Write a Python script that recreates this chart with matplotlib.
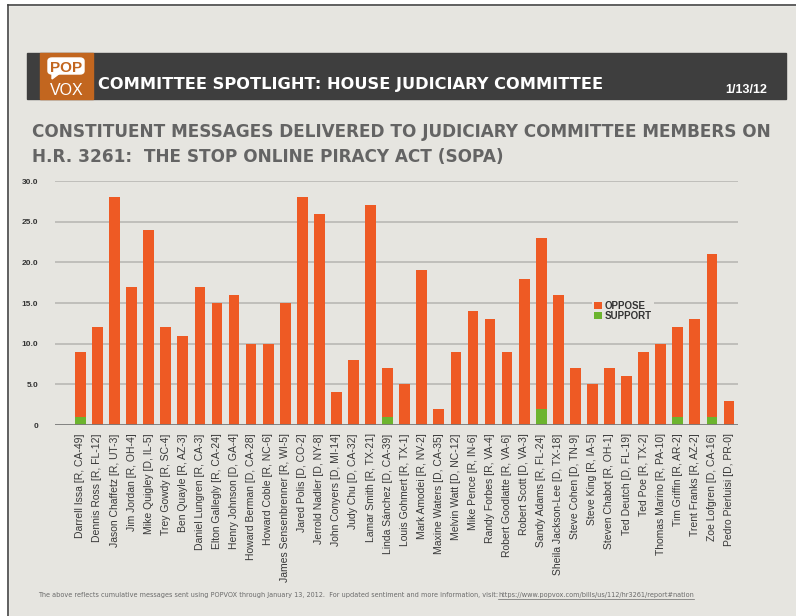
import matplotlib
matplotlib.use("Agg")
import matplotlib.pyplot as plt
import numpy as np
from matplotlib.patches import Rectangle, FancyBboxPatch, Polygon
from matplotlib.lines import Line2D

W, H = 796, 616

members = [
    "Darrell Issa [R, CA-49]", "Dennis Ross [R, FL-12]", "Jason Chaffetz [R, UT-3]",
    "Jim Jordan [R, OH-4]", "Mike Quigley [D, IL-5]", "Trey Gowdy [R, SC-4]",
    "Ben Quayle [R, AZ-3]", "Daniel Lungren [R, CA-3]", "Elton Gallegly [R, CA-24]",
    "Henry Johnson [D, GA-4]", "Howard Berman [D, CA-28]", "Howard Coble [R, NC-6]",
    "James Sensenbrenner [R, WI-5]", "Jared Polis [D, CO-2]", "Jerrold Nadler [D, NY-8]",
    "John Conyers [D, MI-14]", "Judy Chu [D, CA-32]", "Lamar Smith [R, TX-21]",
    "Linda Sánchez [D, CA-39]", "Louis Gohmert [R, TX-1]", "Mark Amodei [R, NV-2]",
    "Maxine Waters [D, CA-35]", "Melvin Watt [D, NC-12]", "Mike Pence [R, IN-6]",
    "Randy Forbes [R, VA-4]", "Robert Goodlatte [R, VA-6]", "Robert Scott [D, VA-3]",
    "Sandy Adams [R, FL-24]", "Sheila Jackson-Lee [D, TX-18]", "Steve Cohen [D, TN-9]",
    "Steve King [R, IA-5]", "Steven Chabot [R, OH-1]", "Ted Deutch [D, FL-19]",
    "Ted Poe [R, TX-2]", "Thomas Marino [R, PA-10]", "Tim Griffin [R, AR-2]",
    "Trent Franks [R, AZ-2]", "Zoe Lofgren [D, CA-16]", "Pedro Pierluisi [D, PR-0]",
]
total = [9, 12, 28, 17, 24, 12, 11, 17, 15, 16, 10, 10, 15, 28, 26, 4, 8, 27, 7, 5,
         19, 2, 9, 14, 13, 9, 18, 23, 16, 7, 5, 7, 6, 9, 10, 12, 13, 21, 3]
support = [1, 0, 0, 0, 0, 0, 0, 0, 0, 0, 0, 0, 0, 0, 0, 0, 0, 0, 1, 0,
           0, 0, 0, 0, 0, 0, 0, 2, 0, 0, 0, 0, 0, 0, 0, 1, 0, 1, 0]
oppose = [t - s for t, s in zip(total, support)]
yticks = [0, 5, 10, 15, 20, 25, 30]
ytick_labels = ["0", "5.0", "10.0", "15.0", "20.0", "25.0", "30.0"]

BG = "#e6e5e0"
DARK = "#3e3e3e"
LOGO = "#c2661f"
ORANGE = "#ee5a24"
GREEN = "#6cb42e"
GRAY_TITLE = "#646464"

NARROW = ["Liberation Sans Narrow", "DejaVu Sans"]
SANS = ["Liberation Sans", "DejaVu Sans"]


def fx(x):
    return x / W


def fy(y):
    return 1 - y / H


fig = plt.figure(figsize=(W / 100, H / 100), dpi=100, facecolor=BG)

# white margin and frame lines
fig.patches.append(Rectangle((0, 0), fx(8), 1, transform=fig.transFigure, color="white", zorder=0))
fig.patches.append(Rectangle((0, fy(5)), 1, 1 - fy(5), transform=fig.transFigure, color="white", zorder=0))
fig.lines.append(Line2D([fx(8), fx(8)], [0, fy(5)], transform=fig.transFigure, color="#444444", lw=1.2))
fig.lines.append(Line2D([fx(8), 1], [fy(5), fy(5)], transform=fig.transFigure, color="#444444", lw=1.2))

# header band with logo
fig.patches.append(Rectangle((fx(27), fy(99)), fx(786) - fx(27), fy(53) - fy(99),
                             transform=fig.transFigure, color=DARK, zorder=1))
fig.patches.append(Rectangle((fx(40), fy(99)), fx(93) - fx(40), fy(53) - fy(99),
                             transform=fig.transFigure, color=LOGO, zorder=2))
fig.patches.append(FancyBboxPatch((fx(48), fy(74)), fx(84) - fx(48), fy(58) - fy(74),
                                  boxstyle="round,pad=0,rounding_size=0.005",
                                  transform=fig.transFigure, color="white", zorder=3))
fig.patches.append(Polygon([(fx(52), fy(73)), (fx(60), fy(73)), (fx(52), fy(79))],
                           closed=True, transform=fig.transFigure, color="white", zorder=3))
fig.text(fx(66), fy(71.5), "POP", color=LOGO, fontsize=11, fontweight="bold",
         family=SANS, ha="center", va="baseline", zorder=4)
fig.text(fx(66.5), fy(95), "VOX", color="white", fontsize=11.5,
         family=SANS, ha="center", va="baseline", zorder=4)

renderer = fig.canvas.get_renderer()


def fit_width(txt, width_px):
    bb = txt.get_window_extent(renderer=renderer)
    txt.set_fontsize(txt.get_fontsize() * width_px / bb.width)
    return txt


head = fig.text(fx(98), fy(89), "COMMITTEE SPOTLIGHT: HOUSE JUDICIARY COMMITTEE",
                color="white", fontsize=20, fontweight="bold", family=NARROW,
                ha="left", va="baseline", zorder=4)
fit_width(head, 505)
fig.text(fx(767), fy(93), "1/13/12", color="white", fontsize=9, fontweight="bold",
         family=SANS, ha="right", va="baseline", zorder=4)

t1 = fig.text(fx(32), fy(137), "CONSTITUENT MESSAGES DELIVERED TO JUDICIARY COMMITTEE MEMBERS ON",
              color=GRAY_TITLE, fontsize=24, fontweight="bold", family=NARROW,
              ha="left", va="baseline")
fit_width(t1, 742)
fig.text(fx(32), fy(162), "H.R. 3261:  THE STOP ONLINE PIRACY ACT (SOPA)",
         color=GRAY_TITLE, fontsize=t1.get_fontsize(), fontweight="bold", family=NARROW,
         ha="left", va="baseline")

# chart area
ax = fig.add_axes([fx(55), fy(425), fx(738) - fx(55), fy(181) - fy(425)])
ax.set_facecolor(BG)
x = np.arange(len(members))
ax.bar(x, support, width=0.63, color=GREEN, label="SUPPORT", zorder=3)
ax.bar(x, oppose, bottom=support, width=0.63, color=ORANGE, label="OPPOSE", zorder=3)

ax.set_xlim(-1.49, 38.53)
ax.set_ylim(0, 30)
ax.set_yticks(yticks)
ax.set_yticklabels(ytick_labels, fontsize=6, fontweight="bold", color="#333333", family=SANS)
ax.set_xticks(x)
ax.set_xticklabels(members, rotation=90, fontsize=7.5, color="#383838", family=SANS)
ax.tick_params(axis="both", length=0)
ax.tick_params(axis="y", pad=12)
ax.tick_params(axis="x", pad=6)
for v in yticks[1:]:
    ax.axhline(v, color="#bdbcb8", lw=1.3, zorder=1)
ax.axhline(0, color="#7a7a7a", lw=1.3, zorder=4)
for s in ax.spines.values():
    s.set_visible(False)

handles, labels = ax.get_legend_handles_labels()
leg = ax.legend(handles[::-1], labels[::-1], loc="upper left", bbox_to_anchor=(0.786, 0.52),
                frameon=True, facecolor=BG, edgecolor="none", framealpha=1,
                handlelength=0.75, handleheight=0.75, handletextpad=0.3,
                labelspacing=0.05, borderpad=0.25, borderaxespad=0,
                prop={"family": SANS, "size": 7, "weight": "bold"})
for t in leg.get_texts():
    t.set_color("#333333")
leg.set_zorder(5)

# footer note with underlined link
note = fig.text(fx(38), fy(597),
                "The above reflects cumulative messages sent using POPVOX through January 13, 2012.  "
                "For updated sentiment and more information, visit:",
                color="#6a6a6a", fontsize=4.72, family=NARROW, ha="left", va="baseline")
bb = note.get_window_extent(renderer=renderer)
url = fig.text(bb.x1 / W, fy(597), "https://www.popvox.com/bills/us/112/hr3261/report#nation",
               color="#6a6a6a", fontsize=4.72, family=NARROW, ha="left", va="baseline")
ub = url.get_window_extent(renderer=renderer)
fig.lines.append(Line2D([ub.x0 / W, ub.x1 / W], [fy(598.5), fy(598.5)],
                        transform=fig.transFigure, color="#6a6a6a", lw=0.5))

fig.savefig("out.png", dpi=100, facecolor=BG)
